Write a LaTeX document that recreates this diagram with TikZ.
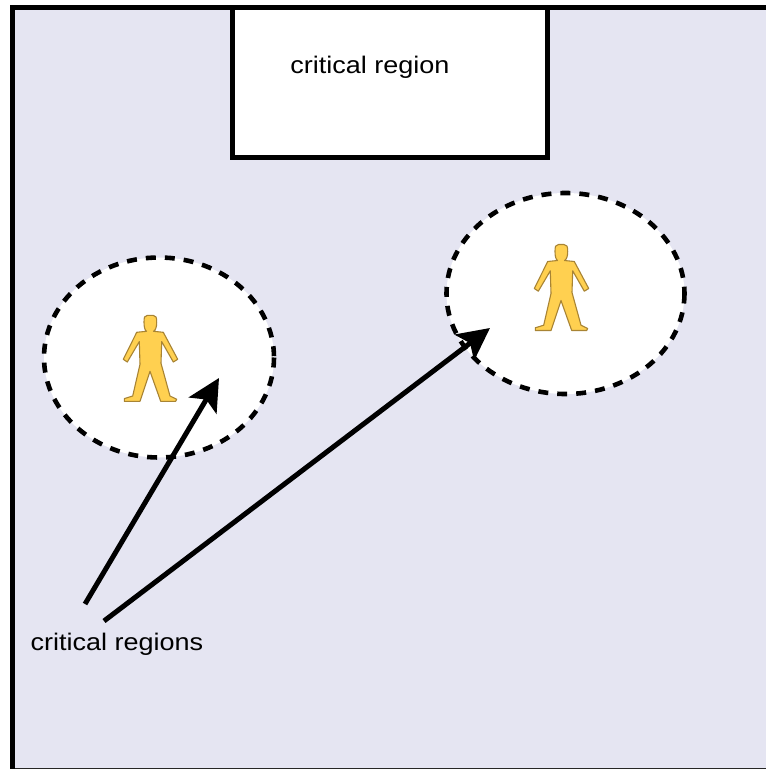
\documentclass[tikz,border=0pt]{standalone}
\usepackage{fontspec}
\setmainfont{Liberation Sans}
\usetikzlibrary{arrows.meta}
\definecolor{roomfill}{HTML}{E5E5F2}
\definecolor{personfill}{HTML}{FFD050}
\definecolor{personline}{HTML}{A88434}
\tikzset{
  x=1pt,y=-1pt,
  wall/.style={line width=5pt,black,line cap=butt,line join=miter},
  zonecircle/.style={draw=black,fill=white,line width=4.6pt,dash pattern=on 10pt off 9pt},
  pointer/.style={line width=5pt,black,-{Stealth[length=32pt,width=32pt,inset=7pt]}},
  label/.style={font=\fontsize{24pt}{28pt}\selectfont,inner sep=0pt,anchor=base,xscale=1.125,transform shape},
  person/.pic={
    \draw[fill=personfill,draw=personline,line width=1.1pt,line join=round]
      (-2.5,-43) .. controls (-5.5,-43) and (-6,-41) .. (-6,-36)
      .. controls (-6,-31) and (-5,-28) .. (-3.5,-27)
      -- (-13.3,-26) -- (-26.7,1) -- (-22.7,3.7) -- (-10.7,-16.7)
      -- (-10,6) -- (-17.3,37.7) -- (-25.7,40.3) -- (-25.7,43) -- (-10,43) -- (0,13) -- (10.7,43)
      -- (25.7,43) -- (26.7,41) -- (20,37.7) -- (11,5) -- (11.7,-16.7)
      -- (23.3,3.7) -- (27.7,1) -- (13.3,-26) -- (3.5,-27)
      .. controls (5.5,-28) and (6.7,-31) .. (6.7,-36)
      .. controls (6.7,-41) and (6,-43) .. (3,-43) -- cycle;
  }
}
\begin{document}
\begin{tikzpicture}
\useasboundingbox (0,0) rectangle (766,769);
\fill[white] (0,0) rectangle (766,769);
\fill[roomfill] (12,7) rectangle (766,768);
\draw[black!85,line width=1pt] (12,768.5) -- (766,768.5);
\draw[wall] (766,7) -- (12,7) -- (12,769);
\draw[wall,fill=white] (232.5,7) -- (232.5,157.5) -- (547,157.5) -- (547,7);
\draw[wall] (230,7) -- (549,7);
\node[label] (regionlabel) at (370,73.3) {critical region};
\draw[zonecircle] (159,357.5) ellipse [x radius=115,y radius=100];
\draw[zonecircle] (565.5,293.5) ellipse [x radius=119,y radius=100.5];
\pic at (150,358.3) {person};
\pic at (561,287.5) {person};
\coordinate (from1) at (85,604);
\coordinate (to1) at (219,378);
\coordinate (from2) at (104,621);
\coordinate (to2) at (490,328);
\draw[pointer] (from1) -- (to1);
\draw[pointer] (from2) -- (to2);
\node[label] (regionslabel) at (117,650) {critical regions};
\end{tikzpicture}
\end{document}
